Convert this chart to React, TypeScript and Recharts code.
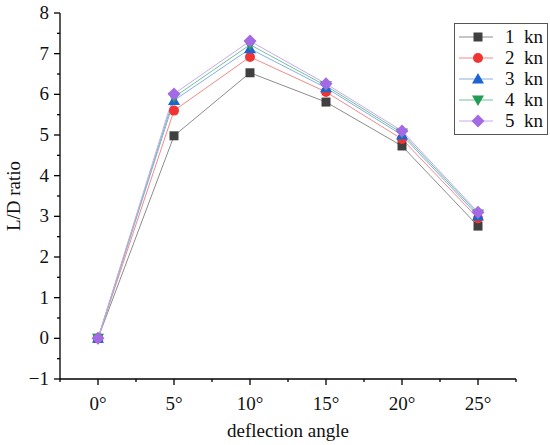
import { LineChart, Line, XAxis, YAxis } from 'recharts';

const angles = [0, 5, 10, 15, 20, 25];
const kn1 = [0, 4.98, 6.53, 5.81, 4.73, 2.76];
const kn2 = [0, 5.6, 6.92, 6.06, 4.9, 2.95];
const kn3 = [0, 5.85, 7.12, 6.16, 5.0, 3.01];
const kn4 = [0, 5.93, 7.22, 6.21, 5.05, 3.06];
const kn5 = [0, 6.01, 7.31, 6.26, 5.1, 3.1];

const xTicks = [-2.5, 0, 2.5, 5, 7.5, 10, 12.5, 15, 17.5, 20, 22.5, 25, 27.5];
const yTicks = [-1, -0.5, 0, 0.5, 1, 1.5, 2, 2.5, 3, 3.5, 4, 4.5, 5, 5.5, 6, 6.5, 7, 7.5, 8];

const series = [
  { key: 'kn1', name: '1  kn', values: kn1, marker: '#404040', line: '#8c8c8c', shape: 'square' },
  { key: 'kn2', name: '2  kn', values: kn2, marker: '#f03434', line: '#f08a8a', shape: 'circle' },
  { key: 'kn3', name: '3  kn', values: kn3, marker: '#1d63d4', line: '#86aee6', shape: 'triangle' },
  { key: 'kn4', name: '4  kn', values: kn4, marker: '#249a55', line: '#70c496', shape: 'down' },
  { key: 'kn5', name: '5  kn', values: kn5, marker: '#a46ae6', line: '#c9a8f0', shape: 'diamond' },
];

const data = angles.map((a, i) => {
  const row: Record<string, number> = { angle: a };
  series.forEach((s) => (row[s.key] = s.values[i]));
  return row;
});

const FONT = '"Liberation Serif", "Times New Roman", serif';

function Marker({ cx, cy, shape, color }: { cx: number; cy: number; shape: string; color: string }) {
  if (cx == null || cy == null) return null;
  switch (shape) {
    case 'square':
      return <rect x={cx - 4.5} y={cy - 4.5} width={9} height={9} fill={color} />;
    case 'circle':
      return <circle cx={cx} cy={cy} r={5} fill={color} />;
    case 'triangle':
      return <polygon points={`${cx},${cy - 6} ${cx - 6},${cy + 4.5} ${cx + 6},${cy + 4.5}`} fill={color} />;
    case 'down':
      return <polygon points={`${cx},${cy + 6} ${cx - 6},${cy - 4.5} ${cx + 6},${cy - 4.5}`} fill={color} />;
    default:
      return <polygon points={`${cx},${cy - 6.5} ${cx + 6.5},${cy} ${cx},${cy + 6.5} ${cx - 6.5},${cy}`} fill={color} />;
  }
}

function YTick({ x, y, payload }: any) {
  const major = Number.isInteger(payload.value);
  return (
    <g>
      <line x1={x - (major ? 6 : 3)} x2={x} y1={y} y2={y} stroke="#000" strokeWidth={1.3} />
      {major && (
        <text x={x - 11} y={y + 6} textAnchor="end" fontSize={19} fontFamily={FONT} fill="#111">
          {payload.value < 0 ? `\u2212${Math.abs(payload.value)}` : payload.value}
        </text>
      )}
    </g>
  );
}

function XTick({ x, y, payload }: any) {
  const major = Number.isInteger(payload.value);
  return (
    <g>
      <line x1={x} x2={x} y1={y} y2={y + (major ? 6 : 3)} stroke="#000" strokeWidth={1.3} />
      {major && (
        <text x={x} y={y + 31} textAnchor="middle" fontSize={19} fontFamily={FONT} fill="#111">
          {`${payload.value}\u00b0`}
        </text>
      )}
    </g>
  );
}

function LegendBox() {
  return (
    <div
      style={{
        position: 'absolute',
        left: 454,
        top: 23,
        border: '1px solid #555',
        background: '#fff',
        padding: '2px 4px 3px 4px',
        width: 84,
        fontFamily: FONT,
        fontSize: 19,
        color: '#111',
      }}
    >
      {series.map((s) => (
        <div key={s.key} style={{ display: 'flex', alignItems: 'center', height: 21 }}>
          <svg width={38} height={16} style={{ marginRight: 12 }}>
            <line x1={0} x2={38} y1={8} y2={8} stroke={s.line} strokeWidth={1} />
            <Marker cx={19} cy={8} shape={s.shape} color={s.marker} />
          </svg>
          <span style={{ whiteSpace: 'pre' }}>{s.name}</span>
        </div>
      ))}
    </div>
  );
}

export default function App() {
  return (
    <div style={{ position: 'absolute', left: 0, top: 0, width: 550, height: 445, background: '#fff' }}>
      <LineChart width={550} height={445} data={data} margin={{ top: 13, right: 34, left: 0, bottom: 0 }}>
        <XAxis
          dataKey="angle"
          type="number"
          domain={[-2.5, 27.5]}
          ticks={xTicks}
          interval={0}
          tick={<XTick />}
          tickLine={false}
          tickSize={0}
          tickMargin={0}
          height={66}
          axisLine={{ stroke: '#000', strokeWidth: 1.3 }}
          label={{ value: 'deflection angle', position: 'insideBottom', offset: 8, fontSize: 19, fontFamily: FONT, fill: '#111' }}
        />
        <YAxis
          type="number"
          domain={[-1, 8]}
          ticks={yTicks}
          interval={0}
          tick={<YTick />}
          tickLine={false}
          tickSize={0}
          tickMargin={0}
          width={60}
          axisLine={{ stroke: '#000', strokeWidth: 1.3 }}
          label={{ value: 'L/D ratio', angle: -90, position: 'insideLeft', offset: 13, fontSize: 19, fontFamily: FONT, fill: '#111', style: { textAnchor: 'middle' } }}
        />
        {series.map((s) => (
          <Line
            key={s.key}
            dataKey={s.key}
            name={s.name}
            stroke={s.line}
            strokeWidth={1}
            isAnimationActive={false}
            dot={(p: any) => <Marker key={`${s.key}-${p.index}`} cx={p.cx} cy={p.cy} shape={s.shape} color={s.marker} />}
            activeDot={false}
          />
        ))}
      </LineChart>
      <LegendBox />
    </div>
  );
}
